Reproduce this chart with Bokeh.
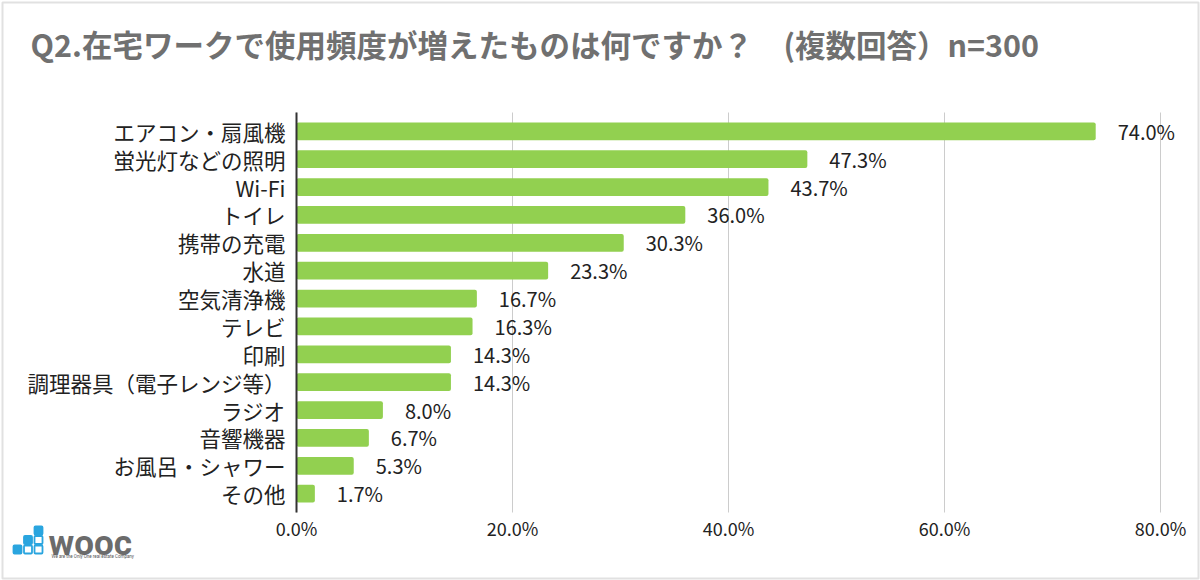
from bokeh.plotting import figure
from bokeh.models import (Range1d, ColumnDataSource, Label, LabelSet,
                          BoxAnnotation, FixedTicker)
from bokeh.core.properties import value
from bokeh.embed import file_html
from bokeh.resources import INLINE

# ---- data ----
categories = ["エアコン・扇風機", "蛍光灯などの照明", "Wi-Fi", "トイレ", "携帯の充電", "水道",
              "空気清浄機", "テレビ", "印刷", "調理器具（電子レンジ等）", "ラジオ", "音響機器",
              "お風呂・シャワー", "その他"]
values = [74.0, 47.3, 43.7, 36.0, 30.3, 23.3, 16.7, 16.3, 14.3, 14.3, 8.0, 6.7, 5.3, 1.7]
x_ticks = [0, 20, 40, 60, 80]
x_tick_labels = ["0.0%", "20.0%", "40.0%", "60.0%", "80.0%"]
title_text = "Q2.在宅ワークで使用頻度が増えたものは何ですか？　(複数回答）n=300"
logo_text = "wooc"
logo_tagline = "We are the Only One real estate Company"

# category slots: first category at the top
y_pos = list(range(len(categories)))[::-1]

JP = "Noto Sans CJK JP"
W, H = 1200, 580

# ---- pixel layout helpers (page px -> data) ----
X0_PX, PX_X = 296, 10.8                 # x=0 at 296px, 10.8 px per percent
TOP_PX, BOT_PX = 112, 512               # plot area (axis line) extent
PAD = 0.675                             # half slot + padding above/below bars
PX_Y = (BOT_PX - TOP_PX) / (len(categories) - 1 + 2 * PAD)
Y_TOP = len(categories) - 1 + PAD


def dx(px):
    return (px - X0_PX) / PX_X


def dy(px):
    return Y_TOP - (px - TOP_PX) / PX_Y


src = ColumnDataSource(dict(y=y_pos, val=values, lbl=[f"{v:.1f}%" for v in values]))

p = figure(width=W, height=H,
           x_range=Range1d(dx(0), dx(W)),
           y_range=Range1d(dy(H), dy(0)),
           output_backend="svg", toolbar_location=None,
           min_border=0, min_border_left=0, min_border_right=0,
           min_border_top=0, min_border_bottom=0)
p.title.visible = False
p.outline_line_color = None
p.background_fill_color = "white"
p.border_fill_color = "white"

p.hbar(y="y", left=0, right="val", height=0.64, source=src,
       fill_color="#92D050", line_color=None, border_radius=2)

p.add_layout(LabelSet(x="val", y="y", text="lbl", source=src, x_offset=22,
                      text_baseline="middle", text_align="left",
                      text_font=value(JP), text_font_size="20px", text_color="#222222"))

# ---- axes (drawn inside the canvas at fixed locations) ----
xa = p.xaxis[0]
xa.fixed_location = dy(BOT_PX)
xa.ticker = FixedTicker(ticks=x_ticks, minor_ticks=[])
xa.major_label_overrides = {t: l for t, l in zip(x_ticks, x_tick_labels)}
xa.axis_line_color = None
xa.major_tick_line_color = None
xa.minor_tick_line_color = None
xa.major_tick_out = 0
xa.major_tick_in = 0
xa.major_label_standoff = 2
xa.major_label_text_font = JP
xa.major_label_text_font_size = "18px"
xa.major_label_text_color = "#222222"

ya = p.yaxis[0]
ya.fixed_location = 0
ya.bounds = (dy(BOT_PX), dy(TOP_PX))
ya.ticker = FixedTicker(ticks=y_pos, minor_ticks=[])
ya.major_label_overrides = {i: c for i, c in zip(y_pos, categories)}
ya.axis_line_color = "#333333"
ya.axis_line_width = 2
ya.major_tick_line_color = None
ya.minor_tick_line_color = None
ya.major_tick_out = 0
ya.major_tick_in = 0
ya.major_label_standoff = 11
ya.major_label_text_font = JP
ya.major_label_text_font_size = "21.5px"
ya.major_label_text_color = "#222222"

p.ygrid.grid_line_color = None
p.xgrid.grid_line_color = "#cccccc"
p.xgrid.grid_line_width = 1
p.xgrid.cross_bounds = (dy(BOT_PX), dy(TOP_PX))

# ---- outer frame ----
p.add_layout(BoxAnnotation(left=dx(2), right=dx(W - 2), top=dy(2), bottom=dy(H - 2),
                           fill_alpha=0, line_color="#9b9b9b", line_width=2))

# ---- title ----
p.add_layout(Label(x=dx(30), y=dy(43), text=title_text,
                   text_font=JP, text_font_size="30.5px", text_font_style="bold",
                   text_color="#707070", text_baseline="middle", text_align="left"))

# ---- logo ----
blue = "#2aa5df"
squares = [  # (left px, top px, filled)
    (13, 545, True), (23.5, 545, False), (34, 545, False),
    (23.5, 535.5, True), (34, 535.5, False),
    (34, 526, True),
]
for (l, t, f) in squares:
    p.add_layout(BoxAnnotation(left=dx(l), right=dx(l + 8), top=dy(t), bottom=dy(t + 8),
                               fill_color=blue, fill_alpha=1 if f else 0,
                               line_color=blue, line_width=1.8, line_alpha=1,
                               border_radius=1))
p.add_layout(Label(x=dx(48), y=dy(543), text=logo_text,
                   text_font="Roboto", text_font_size="35px", text_font_style="bold",
                   text_color="#6b6b6b", text_baseline="middle"))
p.add_layout(Label(x=dx(51), y=dy(556), text=logo_tagline,
                   text_font="Roboto", text_font_size="4.5px",
                   text_color="#555555", text_baseline="middle"))

open("out.html", "w").write(file_html(p, INLINE))
